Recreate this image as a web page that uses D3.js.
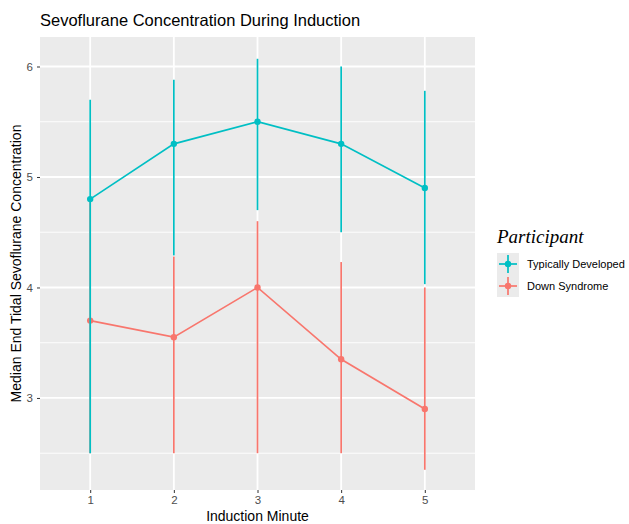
<!DOCTYPE html>
<html>
<head>
<meta charset="utf-8">
<script src="https://cdn.jsdelivr.net/npm/d3@7"></script>
<style>
  body { margin: 0; background: #fff; }
  text { font-family: "Liberation Sans", Arial, sans-serif; }
</style>
</head>
<body>
<svg id="chart" width="629" height="524"></svg>
<script>
var minutes = [1, 2, 3, 4, 5];
var seriesNames = ['Typically Developed', 'Down Syndrome'];
var tdMedian = [4.8, 5.3, 5.5, 5.3, 4.9];
var tdLow = [2.5, 4.29, 4.7, 4.5, 4.03];
var tdHigh = [5.7, 5.88, 6.07, 6.0, 5.78];
var dsMedian = [3.7, 3.55, 4.0, 3.35, 2.9];
var dsLow = [2.5, 2.5, 2.5, 2.5, 2.35];
var dsHigh = [4.8, 4.28, 4.6, 4.23, 4.0];
var yTicks = [3, 4, 5, 6];
var yMinor = [2.5, 3.5, 4.5, 5.5];

var colors = { 'Typically Developed': '#00BFC4', 'Down Syndrome': '#F8766D' };

var series = [
    { name: 'Down Syndrome', median: dsMedian, low: dsLow, high: dsHigh },
    { name: 'Typically Developed', median: tdMedian, low: tdLow, high: tdHigh }
];

var panel = { left: 40, top: 37, right: 475, bottom: 490 };

var svg = d3.select('#chart');

var x = d3.scaleLinear().domain([0.4, 5.6]).range([panel.left, panel.right]);
var y = d3.scaleLinear().domain([2.167, 6.267]).range([panel.bottom, panel.top]);

// panel background
svg.append('rect')
    .attr('x', panel.left)
    .attr('y', panel.top)
    .attr('width', panel.right - panel.left)
    .attr('height', panel.bottom - panel.top)
    .attr('fill', '#EBEBEB');

// grid
svg.selectAll('.minor').data(yMinor).enter()
    .append('line')
        .attr('x1', panel.left).attr('x2', panel.right)
        .attr('y1', function(d) { return y(d); })
        .attr('y2', function(d) { return y(d); })
        .attr('stroke', '#fff').attr('stroke-width', 0.9);

svg.selectAll('.major').data(yTicks).enter()
    .append('line')
        .attr('x1', panel.left).attr('x2', panel.right)
        .attr('y1', function(d) { return y(d); })
        .attr('y2', function(d) { return y(d); })
        .attr('stroke', '#fff').attr('stroke-width', 1.8);

svg.selectAll('.vgrid').data(minutes).enter()
    .append('line')
        .attr('y1', panel.top).attr('y2', panel.bottom)
        .attr('x1', function(d) { return x(d); })
        .attr('x2', function(d) { return x(d); })
        .attr('stroke', '#fff').attr('stroke-width', 1.8);

// axes
var yAxis = d3.axisLeft(y).tickValues(yTicks).tickSize(3).tickPadding(4).tickFormat(d3.format('d'));
var xAxis = d3.axisBottom(x).tickValues(minutes).tickSize(3).tickPadding(3).tickFormat(d3.format('d'));

var gy = svg.append('g').attr('transform', 'translate(' + panel.left + ',0)').call(yAxis);
var gx = svg.append('g').attr('transform', 'translate(0,' + panel.bottom + ')').call(xAxis);
[gx, gy].forEach(function(g) {
    g.select('.domain').remove();
    g.selectAll('.tick line').attr('stroke', '#333').attr('stroke-width', 1);
    g.selectAll('.tick text').attr('fill', '#4D4D4D').style('font-size', '11.5px');
});

// error bars, lines, points
var line = d3.line()
    .x(function(d, i) { return x(minutes[i]); })
    .y(function(d) { return y(d); });

series.forEach(function(s) {
    var c = colors[s.name];
    var g = svg.append('g');
    g.selectAll('line.err').data(minutes).enter()
        .append('line')
            .attr('x1', function(d) { return x(d); })
            .attr('x2', function(d) { return x(d); })
            .attr('y1', function(d, i) { return y(s.low[i]); })
            .attr('y2', function(d, i) { return y(s.high[i]); })
            .attr('stroke', c).attr('stroke-width', 1.7);
    g.append('path')
        .attr('d', line(s.median))
        .attr('fill', 'none')
        .attr('stroke', c).attr('stroke-width', 1.7);
    g.selectAll('circle').data(s.median).enter()
        .append('circle')
            .attr('cx', function(d, i) { return x(minutes[i]); })
            .attr('cy', function(d) { return y(d); })
            .attr('r', 3.2)
            .attr('fill', c);
});

// titles
svg.append('text')
    .attr('x', panel.left).attr('y', 26)
    .style('font-size', '16.5px').attr('fill', '#000')
    .text('Sevoflurane Concentration During Induction');

svg.append('text')
    .attr('x', (panel.left + panel.right) / 2).attr('y', 521)
    .attr('text-anchor', 'middle')
    .style('font-size', '14px').attr('fill', '#000')
    .text('Induction Minute');

svg.append('text')
    .attr('transform', 'translate(21,' + ((panel.top + panel.bottom) / 2) + ') rotate(-90)')
    .attr('text-anchor', 'middle')
    .style('font-size', '14px').attr('fill', '#000')
    .text('Median End Tidal Sevoflurane Concentration');

// legend
var legend = svg.append('g').attr('transform', 'translate(497,0)');
legend.append('text')
    .attr('x', 0).attr('y', 243)
    .style('font-family', '"Liberation Serif", "Times New Roman", serif')
    .style('font-style', 'italic')
    .style('font-size', '19px')
    .text('Participant');

var keys = legend.selectAll('.key').data(seriesNames).enter()
    .append('g')
        .attr('transform', function(d, i) { return 'translate(0,' + (253 + i * 22) + ')'; });
keys.append('rect')
    .attr('width', 22).attr('height', 22)
    .attr('fill', '#EBEBEB');
keys.append('line')
    .attr('x1', 11).attr('x2', 11).attr('y1', 2).attr('y2', 20)
    .attr('stroke', function(d) { return colors[d]; }).attr('stroke-width', 1.7);
keys.append('line')
    .attr('x1', 2).attr('x2', 20).attr('y1', 11).attr('y2', 11)
    .attr('stroke', function(d) { return colors[d]; }).attr('stroke-width', 1.7);
keys.append('circle')
    .attr('cx', 11).attr('cy', 11).attr('r', 3.2)
    .attr('fill', function(d) { return colors[d]; });
keys.append('text')
    .attr('x', 30).attr('y', 15)
    .style('font-size', '11px').attr('fill', '#000')
    .text(function(d) { return d; });
</script>
</body>
</html>
